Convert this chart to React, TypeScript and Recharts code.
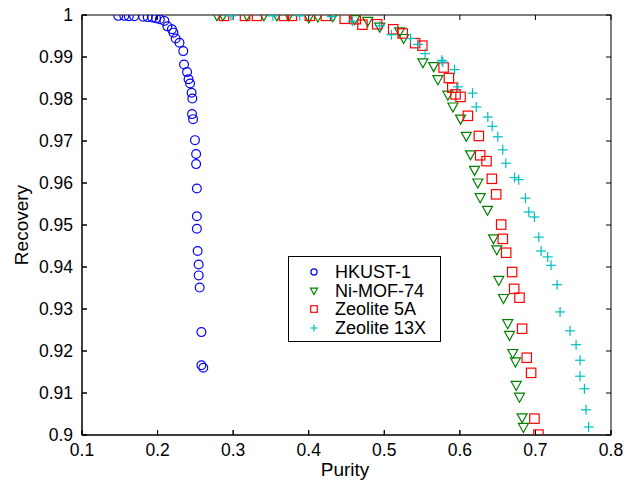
import React from 'react';
import { ScatterChart, Scatter, XAxis, YAxis, Legend } from 'recharts';

// purity / recovery pairs
const hkustPurity = [0.148, 0.156, 0.162, 0.169, 0.181, 0.187, 0.193, 0.198, 0.203, 0.209, 0.213, 0.219, 0.221, 0.224, 0.229, 0.234, 0.235, 0.239, 0.241, 0.243, 0.245, 0.246, 0.2456, 0.247, 0.2495, 0.251, 0.251, 0.252, 0.252, 0.252, 0.253, 0.2544, 0.2544, 0.2557, 0.258, 0.258, 0.2605];
const hkustRecovery = [0.9998, 0.9998, 0.9997, 0.9997, 0.9996, 0.9995, 0.9994, 0.9992, 0.999, 0.9986, 0.9973, 0.9966, 0.9958, 0.9944, 0.9934, 0.9914, 0.9882, 0.9864, 0.9847, 0.9837, 0.9815, 0.9801, 0.9764, 0.9752, 0.9702, 0.9669, 0.9645, 0.9587, 0.9521, 0.9491, 0.9438, 0.9406, 0.938, 0.9351, 0.9245, 0.9166, 0.916];

const niMofPurity = [0.2786, 0.2865, 0.3182, 0.3407, 0.3579, 0.3737, 0.4002, 0.4121, 0.4319, 0.4609, 0.4781, 0.494, 0.5204, 0.5256, 0.5511, 0.5653, 0.5709, 0.5841, 0.5908, 0.6009, 0.6085, 0.6141, 0.6194, 0.6238, 0.6269, 0.6366, 0.6445, 0.6489, 0.6515, 0.6577, 0.6634, 0.6657, 0.67, 0.6736, 0.6745, 0.6789, 0.6824, 0.6841];
const niMofRecovery = [0.9998, 0.9998, 0.9998, 0.9998, 0.9998, 0.9998, 0.9993, 0.9995, 0.9996, 0.9989, 0.9985, 0.9971, 0.996, 0.9944, 0.9886, 0.9877, 0.9846, 0.9809, 0.9781, 0.9752, 0.9711, 0.9667, 0.963, 0.96, 0.9565, 0.9535, 0.9467, 0.9441, 0.9368, 0.9325, 0.9265, 0.9237, 0.9194, 0.9174, 0.9118, 0.909, 0.9041, 0.9018];

const z5aPurity = [0.2879, 0.3157, 0.3315, 0.3672, 0.3778, 0.4015, 0.4226, 0.4477, 0.4622, 0.4711, 0.4906, 0.5118, 0.5243, 0.5408, 0.5503, 0.5785, 0.5855, 0.59, 0.5943, 0.6009, 0.6106, 0.6251, 0.6269, 0.6353, 0.6423, 0.6481, 0.6547, 0.6568, 0.6613, 0.6692, 0.6719, 0.6789, 0.6824, 0.6885, 0.6943, 0.6987, 0.704];
const z5aRecovery = [0.9998, 0.9998, 0.9998, 0.9998, 0.9998, 0.9998, 0.9998, 0.9991, 0.999, 0.9977, 0.9978, 0.9966, 0.9956, 0.9933, 0.9927, 0.9875, 0.985, 0.9827, 0.9811, 0.9805, 0.976, 0.9712, 0.9666, 0.9652, 0.961, 0.9573, 0.9501, 0.9467, 0.9434, 0.9388, 0.9348, 0.9327, 0.9253, 0.9184, 0.9148, 0.9039, 0.9001];

const z13xPurity = [0.2971, 0.3526, 0.3882, 0.4305, 0.4579, 0.4939, 0.5094, 0.5349, 0.5445, 0.554, 0.5761, 0.5775, 0.593, 0.5974, 0.6168, 0.6217, 0.637, 0.6428, 0.6502, 0.6568, 0.6608, 0.6723, 0.6779, 0.6868, 0.6912, 0.6987, 0.7044, 0.7075, 0.7163, 0.7207, 0.7287, 0.7326, 0.7458, 0.7538, 0.7591, 0.7591, 0.7648, 0.767, 0.7704];
const z13xRecovery = [0.9998, 0.9998, 0.9998, 0.9996, 0.9985, 0.9974, 0.9953, 0.9944, 0.993, 0.9908, 0.9892, 0.9888, 0.987, 0.9829, 0.9814, 0.9781, 0.9757, 0.9735, 0.971, 0.9679, 0.9647, 0.9613, 0.9608, 0.9564, 0.9531, 0.9519, 0.9471, 0.9438, 0.9424, 0.9404, 0.9358, 0.9293, 0.9248, 0.9215, 0.9178, 0.914, 0.911, 0.906, 0.9019];

const xTicks = [0.1, 0.2, 0.3, 0.4, 0.5, 0.6, 0.7, 0.8];
const yTicks = [0.9, 0.91, 0.92, 0.93, 0.94, 0.95, 0.96, 0.97, 0.98, 0.99, 1];
const xDomain = [0.1, 0.8];
const yDomain = [0.9, 1];

const font = '"Liberation Sans", Arial, sans-serif';

// chart layout
const W = 629;
const H = 481;
const margin = { top: 15, right: 18, bottom: 16, left: 0 };
const yAxisW = 82;
const xAxisH = 30;
const plot = {
  left: margin.left + yAxisW,
  top: margin.top,
  width: W - margin.left - margin.right - yAxisW,
  height: H - margin.top - margin.bottom - xAxisH,
};
const plotRight = plot.left + plot.width;
const plotBottom = plot.top + plot.height;
const tickX = (v: number) => plot.left + ((v - xDomain[0]) / (xDomain[1] - xDomain[0])) * plot.width;
const tickY = (v: number) => plotBottom - ((v - yDomain[0]) / (yDomain[1] - yDomain[0])) * plot.height;

const zip = (xs: number[], ys: number[]) => xs.map((x, i) => ({ purity: x, recovery: ys[i] }));

const series = [
  { name: 'HKUST-1', kind: 'circle', color: '#0000ff', data: zip(hkustPurity, hkustRecovery) },
  { name: 'Ni-MOF-74', kind: 'triangle', color: '#008000', data: zip(niMofPurity, niMofRecovery) },
  { name: 'Zeolite 5A', kind: 'square', color: '#ff0000', data: zip(z5aPurity, z5aRecovery) },
  { name: 'Zeolite 13X', kind: 'plus', color: '#00bfbf', data: zip(z13xPurity, z13xRecovery) },
];

const Marker = ({ kind, cx, cy, color, s = 1 }: any) => {
  if (kind === 'circle') {
    return <circle cx={cx} cy={cy} r={4.4 * s} fill="none" stroke={color} strokeWidth={1.2} />;
  }
  if (kind === 'triangle') {
    const pts = `${cx - 5 * s},${cy - 4 * s} ${cx + 5 * s},${cy - 4 * s} ${cx},${cy + 5 * s}`;
    return <polygon points={pts} fill="none" stroke={color} strokeWidth={1.2} />;
  }
  if (kind === 'square') {
    return <rect x={cx - 4.7 * s} y={cy - 4.7 * s} width={9.4 * s} height={9.4 * s} fill="none" stroke={color} strokeWidth={1.2} />;
  }
  return (
    <g stroke={color} strokeWidth={1.2}>
      <line x1={cx - 5 * s} y1={cy} x2={cx + 5 * s} y2={cy} />
      <line x1={cx} y1={cy - 5 * s} x2={cx} y2={cy + 5 * s} />
    </g>
  );
};

const LegendBox = () => (
  <div
    style={{
      border: '1px solid #000',
      background: '#fff',
      width: 153,
      padding: '6px 0 4px 0',
      fontFamily: font,
      fontSize: 18,
      boxSizing: 'border-box',
    }}
  >
    {series.map((s) => (
      <div key={s.name} style={{ display: 'flex', alignItems: 'center', height: 18.6 }}>
        <svg width={46} height={18} style={{ flex: 'none' }}>
          <Marker kind={s.kind} cx={25} cy={9} color={s.color} s={0.7} />
        </svg>
        <span style={{ color: '#000', whiteSpace: 'nowrap', lineHeight: '18px' }}>{s.name}</span>
      </div>
    ))}
  </div>
);

const fmtY = (v: number) => String(Number(v.toFixed(2)));

export default function App() {
  const tickStyle = { fill: '#000', fontSize: 17.5, fontFamily: font };
  return (
    <div style={{ position: 'absolute', left: 0, top: 0, background: '#fff' }}>
      <ScatterChart width={W} height={H} margin={margin}>
        <XAxis
          type="number"
          dataKey="purity"
          domain={xDomain}
          ticks={xTicks}
          interval={0}
          allowDataOverflow
          height={xAxisH}
          stroke="#000"
          tick={tickStyle}
          tickSize={-5}
          tickMargin={14}
        />
        <YAxis
          type="number"
          dataKey="recovery"
          domain={yDomain}
          ticks={yTicks}
          interval={0}
          allowDataOverflow
          width={yAxisW}
          stroke="#000"
          tick={tickStyle}
          tickFormatter={fmtY}
          tickSize={-5}
          tickMargin={14}
        />
        {/* closed box with inward ticks on all four sides */}
        <g stroke="#000" strokeWidth={1} fill="none">
          <rect x={plot.left} y={plot.top} width={plot.width} height={plot.height} fill="none" />
          {xTicks.map((t) => (
            <path
              key={`x${t}`}
              d={`M${tickX(t)},${plot.top}V${plot.top + 5}M${tickX(t)},${plotBottom}V${plotBottom - 5}`}
            />
          ))}
          {yTicks.map((t) => (
            <path
              key={`y${t}`}
              d={`M${plot.left},${tickY(t)}H${plot.left + 5}M${plotRight},${tickY(t)}H${plotRight - 5}`}
            />
          ))}
        </g>
        {series.map((s) => (
          <Scatter
            key={s.name}
            name={s.name}
            data={s.data}
            isAnimationActive={false}
            shape={(p: any) => <Marker kind={s.kind} cx={p.cx} cy={p.cy} color={s.color} />}
          />
        ))}
        <Legend
          layout="vertical"
          align="center"
          verticalAlign="middle"
          wrapperStyle={{ left: 288, top: 256, width: 153 }}
          content={() => <LegendBox />}
        />
        <text x={345} y={476} textAnchor="middle" fontSize={19} fontFamily={font} fill="#000">
          Purity
        </text>
        <text
          x={28}
          y={225}
          textAnchor="middle"
          fontSize={19}
          fontFamily={font}
          fill="#000"
          transform="rotate(-90, 28, 225)"
        >
          Recovery
        </text>
      </ScatterChart>
    </div>
  );
}
